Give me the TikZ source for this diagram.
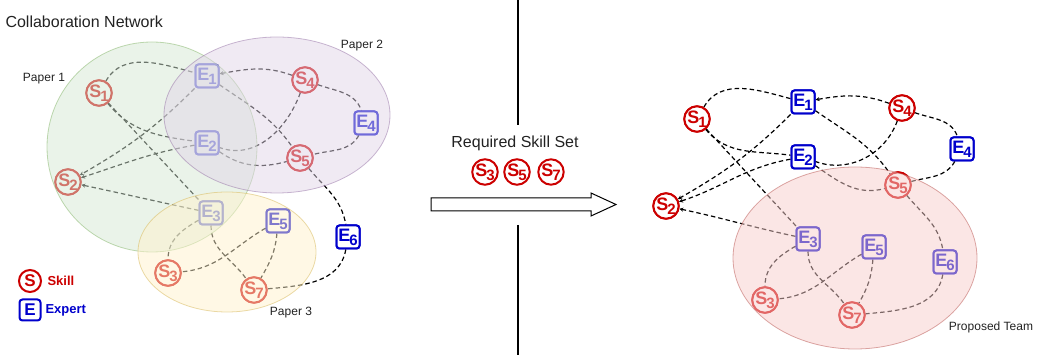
\documentclass[tikz,border=0pt]{standalone}
\usepackage{fontspec}
\setmainfont{Liberation Sans}
\usetikzlibrary{arrows.meta}

\definecolor{skillred}{HTML}{CC0000}
\definecolor{expertblue}{HTML}{0000CC}
\definecolor{p1fill}{HTML}{D5E8D4}\definecolor{p1line}{HTML}{82B366}
\definecolor{p2fill}{HTML}{E1D5E7}\definecolor{p2line}{HTML}{9673A6}
\definecolor{p3fill}{HTML}{FFF2CC}\definecolor{p3line}{HTML}{D6B656}
\definecolor{teamfill}{HTML}{F8CECC}\definecolor{teamline}{HTML}{B85450}
\definecolor{txt}{HTML}{222222}

% node label: a letter with its index
\newcommand\idx[2]{{\fontsize{18}{18}\selectfont #1}\kern-1pt\raisebox{-4pt}{\fontsize{15}{15}\selectfont #2}}

\tikzset{
  skill/.style={circle, draw=skillred, text=skillred, line width=2pt, fill=white,
    minimum size=23pt, inner sep=0pt, font=\bfseries},
  expert/.style={rectangle, rounded corners=3pt, draw=expertblue, text=expertblue,
    line width=2pt, fill=white, minimum size=23pt, inner sep=0pt, font=\bfseries},
  link/.style={draw=black, line width=1.2pt, dash pattern=on 4.5pt off 3pt},
  tip/.style={-{Stealth[length=4pt,width=4pt]}},
  paper/.style={line width=0.8pt, fill opacity=0.5, draw opacity=0.5},
  papercap/.style={text=txt, font=\fontsize{12}{12}\selectfont},
}

% the dashed links of a network whose nodes carry the prefix #1
\newcommand\netlinks[1]{%
  \draw[link] (#1S1) to[out=60,in=165] (#1E1);
  \draw[link] (#1S1) to[out=-50,in=172] (#1E2);
  \draw[link] (#1S1) -- (#1E3);
  \draw[link,tip] (#1E1) to[out=225,in=30] (#1S2);
  \draw[link,tip] (#1E2) to[out=190,in=18] (#1S2);
  \draw[link,tip] (#1E3) to[out=168,in=-12] (#1S2);
  \draw[link,tip] (#1S4) to[out=160,in=10] (#1E1);
  \draw[link] (#1E1) to[out=-35,in=125] (#1S5);
  \draw[link] (#1S4) to[out=-110,in=-20] (#1E2);
  \draw[link] (#1E2) to[out=-35,in=195] (#1S5);
  \draw[link] (#1S4) to[out=-20,in=110] (#1E4);
  \draw[link] (#1E4) to[out=-120,in=15] (#1S5);
  \draw[link] (#1S5) to[out=-50,in=100] (#1E6);
  \draw[link] (#1E6) to[out=-100,in=5] (#1S7);
  \draw[link] (#1E3) to[out=-150,in=90] (#1S3);
  \draw[link] (#1E3) to[out=-90,in=125] (#1S7);
  \draw[link] (#1E5) to[out=-150,in=5] (#1S3);
  \draw[link] (#1E5) to[out=-95,in=60] (#1S7);
}

% the twelve nodes of a network, prefix #1, at the given places
\newcommand\netnodes[1]{%
  \node[skill]  (#1S1) at (#1S1pos) {\idx{S}{1}};
  \node[expert] (#1E1) at (#1E1pos) {\idx{E}{1}};
  \node[skill]  (#1S4) at (#1S4pos) {\idx{S}{4}};
  \node[expert] (#1E4) at (#1E4pos) {\idx{E}{4}};
  \node[expert] (#1E2) at (#1E2pos) {\idx{E}{2}};
  \node[skill]  (#1S5) at (#1S5pos) {\idx{S}{5}};
  \node[skill]  (#1S2) at (#1S2pos) {\idx{S}{2}};
  \node[expert] (#1E3) at (#1E3pos) {\idx{E}{3}};
  \node[expert] (#1E5) at (#1E5pos) {\idx{E}{5}};
  \node[expert] (#1E6) at (#1E6pos) {\idx{E}{6}};
  \node[skill]  (#1S3) at (#1S3pos) {\idx{S}{3}};
  \node[skill]  (#1S7) at (#1S7pos) {\idx{S}{7}};
}

\begin{document}
\begin{tikzpicture}[x=1pt,y=1pt]
\useasboundingbox (0,0) rectangle (1041,358);

% ---------- collaboration network ----------
\node[anchor=west, text=txt, font=\fontsize{16}{16}\selectfont] (title) at (2,336) {Collaboration Network};

\coordinate (lS1pos) at (99,265);
\coordinate (lE1pos) at (207,282);
\coordinate (lS4pos) at (305,278);
\coordinate (lE4pos) at (366,235);
\coordinate (lE2pos) at (207,215);
\coordinate (lS5pos) at (300,200);
\coordinate (lS2pos) at (68,176);
\coordinate (lE3pos) at (211,145);
\coordinate (lE5pos) at (278,137);
\coordinate (lE6pos) at (348,121);
\coordinate (lS3pos) at (168,85);
\coordinate (lS7pos) at (254,68);
\netnodes{l}
\netlinks{l}
\netnodes{l}

% papers, laid over the network
\path[paper, fill=p1fill, draw=p1line] (152,211) ellipse [x radius=105, y radius=105];
\path[paper, fill=p2fill, draw=p2line] (277,243) ellipse [x radius=113, y radius=78];
\path[paper, fill=p3fill, draw=p3line] (227,106) ellipse [x radius=89, y radius=60];
\node[papercap] (pa1) at (44,279) {Paper 1};
\node[papercap] (pa2) at (362,312) {Paper 2};
\node[papercap] (pa3) at (291,45) {Paper 3};

% legend
\node[skill, minimum size=22pt] (legS) at (30,77) {\fontsize{17}{17}\selectfont S};
\node[anchor=west, text=skillred, font=\bfseries\fontsize{13}{13}\selectfont] (legSt) at (44,77) {Skill};
\node[expert, minimum size=21pt] (legE) at (30,48) {\fontsize{17}{17}\selectfont E};
\node[anchor=west, text=expertblue, font=\bfseries\fontsize{13}{13}\selectfont] (legEt) at (42,48) {Expert};

% ---------- divider and query ----------
\coordinate (d1) at (518,358);
\coordinate (d2) at (518,233);
\coordinate (d3) at (518,133);
\coordinate (d4) at (518,3);
\draw[line width=1.5pt] (d1) -- (d2);
\draw[line width=1.5pt] (d3) -- (d4);

\node[text=txt, font=\fontsize{16}{16}\selectfont] (req) at (515,215) {Required Skill Set};
\node[skill, minimum size=22pt] (q3) at (485,186) {\idx{S}{3}};
\node[skill, minimum size=22pt] (q5) at (517,186) {\idx{S}{5}};
\node[skill, minimum size=22pt] (q7) at (551,186) {\idx{S}{7}};

\draw[line width=1pt, fill=white, line join=miter]
  (431,160) -- (591,160) -- (591,165) -- (616,153.5) -- (591,142) -- (591,147) -- (431,147) -- cycle;

% ---------- proposed team ----------
\coordinate (rS1pos) at (697,239);
\coordinate (rE1pos) at (803,256);
\coordinate (rS4pos) at (902,250);
\coordinate (rE4pos) at (962,209);
\coordinate (rE2pos) at (803,201);
\coordinate (rS5pos) at (898,173);
\coordinate (rS2pos) at (666,152);
\coordinate (rE3pos) at (808,119);
\coordinate (rE5pos) at (874,111);
\coordinate (rE6pos) at (945,96);
\coordinate (rS3pos) at (765,58);
\coordinate (rS7pos) at (852,43);
\netnodes{r}
\netlinks{r}
\netnodes{r}

\path[paper, fill=teamfill, draw=teamline] (855,100) ellipse [x radius=122, y radius=91];
\node[papercap] (team) at (991,31) {Proposed Team};
\end{tikzpicture}
\end{document}
